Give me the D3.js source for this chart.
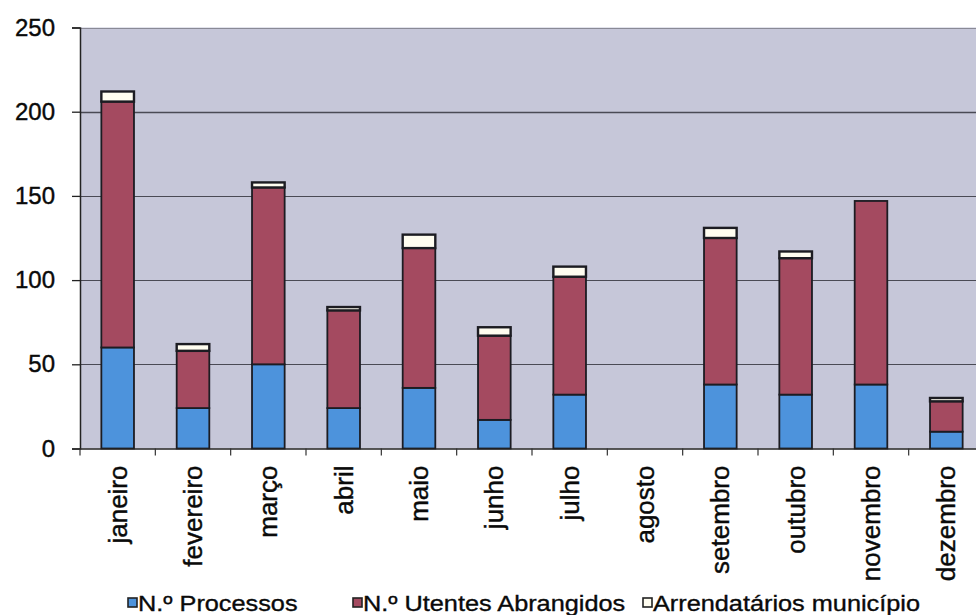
<!DOCTYPE html>
<html>
<head>
<meta charset="utf-8">
<script src="https://cdn.jsdelivr.net/npm/d3@7/dist/d3.min.js"></script>
<style>
  html, body { margin: 0; padding: 0; background: #ffffff; }
  svg { display: block; }
  text { font-family: "Liberation Sans", Arial, sans-serif; fill: #0a0a0a; }
</style>
</head>
<body>
<svg id="chart" width="976" height="615"></svg>
<script>
// Monthly counts, stacked bottom to top
const months = ["janeiro", "fevereiro", "março", "abril", "maio", "junho",
                "julho", "agosto", "setembro", "outubro", "novembro", "dezembro"];
const processos   = [60, 24, 50, 24, 36, 17, 32, 0, 38, 32, 38, 10];
const utentes     = [146, 34, 105, 58, 83, 50, 70, 0, 87, 81, 109, 18];
const arrendatarios = [6, 4, 3, 2, 8, 5, 6, 0, 6, 4, 0, 2];
const yTicks = [0, 50, 100, 150, 200, 250];
const seriesNames = ["N.º Processos", "N.º Utentes Abrangidos", "Arrendatários município"];
const seriesColors = ["#4d93dc", "#a44a60", "#fffdf0"];

const svg = d3.select("#chart");
const plotLeft = 80, plotRight = 984, plotTop = 27.5, plotBottom = 448.5;

const x = d3.scaleBand().domain(months).range([plotLeft, plotRight])
  .paddingInner(0.567).paddingOuter(0.2835);
const y = d3.scaleLinear().domain([0, 250]).range([plotBottom, plotTop]);

// plot area background
svg.append("rect")
  .attr("x", plotLeft + 1).attr("y", y(250))
  .attr("width", 976 - plotLeft).attr("height", y(0) - y(250))
  .attr("fill", "#c6c7d9");

// horizontal grid lines
svg.append("g").selectAll("line")
  .data(yTicks.filter(d => d > 0))
  .join("line")
  .attr("x1", plotLeft).attr("x2", 976)
  .attr("y1", d => Math.round(y(d)) + 0.5).attr("y2", d => Math.round(y(d)) + 0.5)
  .attr("stroke", d => d === 250 ? "#8a8a96" : "#4a4a55")
  .attr("stroke-width", d => d === 200 ? 1.6 : 1.2);

// stacked bars
const rows = months.map((m, i) => ({
  month: m, p: processos[i], u: utentes[i], a: arrendatarios[i]
}));
const stack = d3.stack().keys(["p", "u", "a"]);
const layers = stack(rows);

const g = svg.append("g");
layers.forEach((layer, li) => {
  g.append("g").selectAll("rect")
    .data(layer.filter(d => d[1] - d[0] > 0))
    .join("rect")
    .attr("x", d => x(d.data.month))
    .attr("y", d => y(d[1]))
    .attr("width", x.bandwidth())
    .attr("height", d => y(d[0]) - y(d[1]))
    .attr("fill", seriesColors[li])
    .attr("stroke", "#1c1c22")
    .attr("stroke-width", li === 2 ? 2.4 : 1.8);
});

// y axis
const yAxis = d3.axisLeft(y).tickValues(yTicks).tickSize(8).tickPadding(17);
const ya = svg.append("g").attr("transform", `translate(${plotLeft},0)`).call(yAxis);
ya.select(".domain").attr("stroke", "#222").attr("stroke-width", 1.5);
ya.selectAll(".tick line").attr("stroke", "#222").attr("stroke-width", 1.3);
ya.selectAll(".tick text")
  .style("font-family", "'Liberation Sans', Arial, sans-serif")
  .attr("font-size", 24).attr("fill", "#0a0a0a")
  .attr("stroke", "#0a0a0a").attr("stroke-width", 0.4);

// x axis with ticks between categories
const xa = svg.append("g").attr("transform", `translate(0,${plotBottom})`);
xa.append("line").attr("x1", plotLeft).attr("x2", 976)
  .attr("y1", 0.5).attr("y2", 0.5).attr("stroke", "#222").attr("stroke-width", 1.5);
const step = x.step();
xa.selectAll("line.tk")
  .data(d3.range(months.length + 1))
  .join("line").attr("class", "tk")
  .attr("x1", i => plotLeft + i * step).attr("x2", i => plotLeft + i * step)
  .attr("y1", 0).attr("y2", 7)
  .attr("stroke", "#333").attr("stroke-width", 1.2);
xa.selectAll("text")
  .data(months)
  .join("text")
  .attr("transform", m => `translate(${x(m) + x.bandwidth() / 2 + 9},17) rotate(-90)`)
  .attr("text-anchor", "end")
  .attr("font-size", 26)
  .attr("stroke", "#0a0a0a").attr("stroke-width", 0.4)
  .text(m => m);

// legend
const legendX = [128, 353, 643];
const lg = svg.append("g").attr("transform", "translate(0,603)");
seriesNames.forEach((name, i) => {
  const item = lg.append("g").attr("transform", `translate(${legendX[i]},0)`);
  item.append("rect").attr("x", 0).attr("y", -5).attr("width", 9).attr("height", 9)
    .attr("fill", seriesColors[i]).attr("stroke", "#222").attr("stroke-width", 1.6);
  item.append("text").attr("transform", "translate(10,8) scale(1.15,1)")
    .attr("font-size", 22)
    .attr("stroke", "#0a0a0a").attr("stroke-width", 0.35)
    .text(name);
});
</script>
</body>
</html>
